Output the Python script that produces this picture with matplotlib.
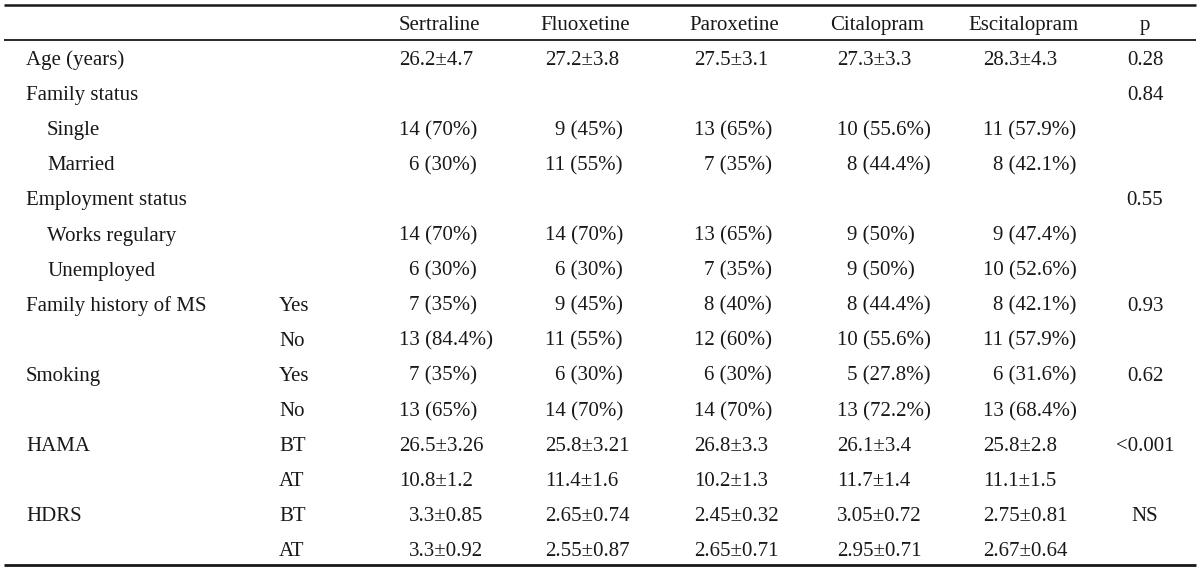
import re
import matplotlib
matplotlib.use("Agg")
import matplotlib.pyplot as plt

plt.rcParams['font.family'] = ['Liberation Serif', 'DejaVu Serif']

drugs = ["Sertraline", "Fluoxetine", "Paroxetine", "Citalopram", "Escitalopram"]

labels = ["Age (years)", "Family status", "Single", "Married", "Employment status",
          "Works regulary", "Unemployed", "Family history of MS", "", "Smoking", "",
          "HAMA", "", "HDRS", ""]
indent = [0, 0, 1, 1, 0, 1, 1, 0, 0, 0, 0, 0, 0, 0, 0]
sub = ["", "", "", "", "", "", "", "Yes", "No", "Yes", "No", "BT", "AT", "BT", "AT"]

sertraline = ["26.2±4.7", "", "14 (70%)", "6 (30%)", "", "14 (70%)", "6 (30%)",
              "7 (35%)", "13 (84.4%)", "7 (35%)", "13 (65%)",
              "26.5±3.26", "10.8±1.2", "3.3±0.85", "3.3±0.92"]
fluoxetine = ["27.2±3.8", "", "9 (45%)", "11 (55%)", "", "14 (70%)", "6 (30%)",
              "9 (45%)", "11 (55%)", "6 (30%)", "14 (70%)",
              "25.8±3.21", "11.4±1.6", "2.65±0.74", "2.55±0.87"]
paroxetine = ["27.5±3.1", "", "13 (65%)", "7 (35%)", "", "13 (65%)", "7 (35%)",
              "8 (40%)", "12 (60%)", "6 (30%)", "14 (70%)",
              "26.8±3.3", "10.2±1.3", "2.45±0.32", "2.65±0.71"]
citalopram = ["27.3±3.3", "", "10 (55.6%)", "8 (44.4%)", "", "9 (50%)", "9 (50%)",
              "8 (44.4%)", "10 (55.6%)", "5 (27.8%)", "13 (72.2%)",
              "26.1±3.4", "11.7±1.4", "3.05±0.72", "2.95±0.71"]
escitalopram = ["28.3±4.3", "", "11 (57.9%)", "8 (42.1%)", "", "9 (47.4%)", "10 (52.6%)",
                "8 (42.1%)", "11 (57.9%)", "6 (31.6%)", "13 (68.4%)",
                "25.8±2.8", "11.1±1.5", "2.75±0.81", "2.67±0.64"]
p_values = ["0.28", "0.84", "", "", "0.55", "", "", "0.93", "", "0.62", "",
            "<0.001", "", "NS", ""]

columns = [sertraline, fluoxetine, paroxetine, citalopram, escitalopram]

# layout (pixels)
fs = 15
ink = '#1a1718'
col_x = [399, 545, 694, 837, 983]
head_dx = 40
p_x = 1145
digit_w = 10.4
row0, row_h = 65, 35.1

fig = plt.figure(figsize=(12, 5.7), dpi=100)
ax = fig.add_axes([0, 0, 1, 1])
ax.set_xlim(0, 1200)
ax.set_ylim(570, 0)
ax.axis('off')

ax.plot([4, 1196], [4.5, 4.5], color=ink, lw=1.8, solid_capstyle='butt')
ax.plot([4, 1196], [40, 40], color=ink, lw=1.3, solid_capstyle='butt')
ax.plot([4, 1196], [565, 565], color=ink, lw=2.0, solid_capstyle='butt')

for name, x in zip(drugs, col_x):
    ax.text(x + head_dx, 30, name, ha='center', va='baseline', fontsize=fs, color=ink)
ax.text(p_x, 30, "p", ha='center', va='baseline', fontsize=fs, color=ink)


def shift(s):
    first = re.split(r'[±( ]', s)[0]
    ndig = sum(c.isdigit() for c in first)
    target = 3 if '±' in s else 2
    return (target - ndig) * digit_w


for i in range(len(labels)):
    y = row0 + row_h * i
    if labels[i]:
        ax.text(26 + 21 * indent[i], y, labels[i], ha='left', va='baseline', fontsize=fs, color=ink)
    if sub[i]:
        ax.text(279, y, sub[i], ha='left', va='baseline', fontsize=fs, color=ink)
    for col, x in zip(columns, col_x):
        s = col[i]
        if s:
            ax.text(x + shift(s), y, s, ha='left', va='baseline', fontsize=fs, color=ink)
    if p_values[i]:
        ax.text(p_x, y, p_values[i], ha='center', va='baseline', fontsize=fs, color=ink)

fig.savefig("out.png", dpi=100)
